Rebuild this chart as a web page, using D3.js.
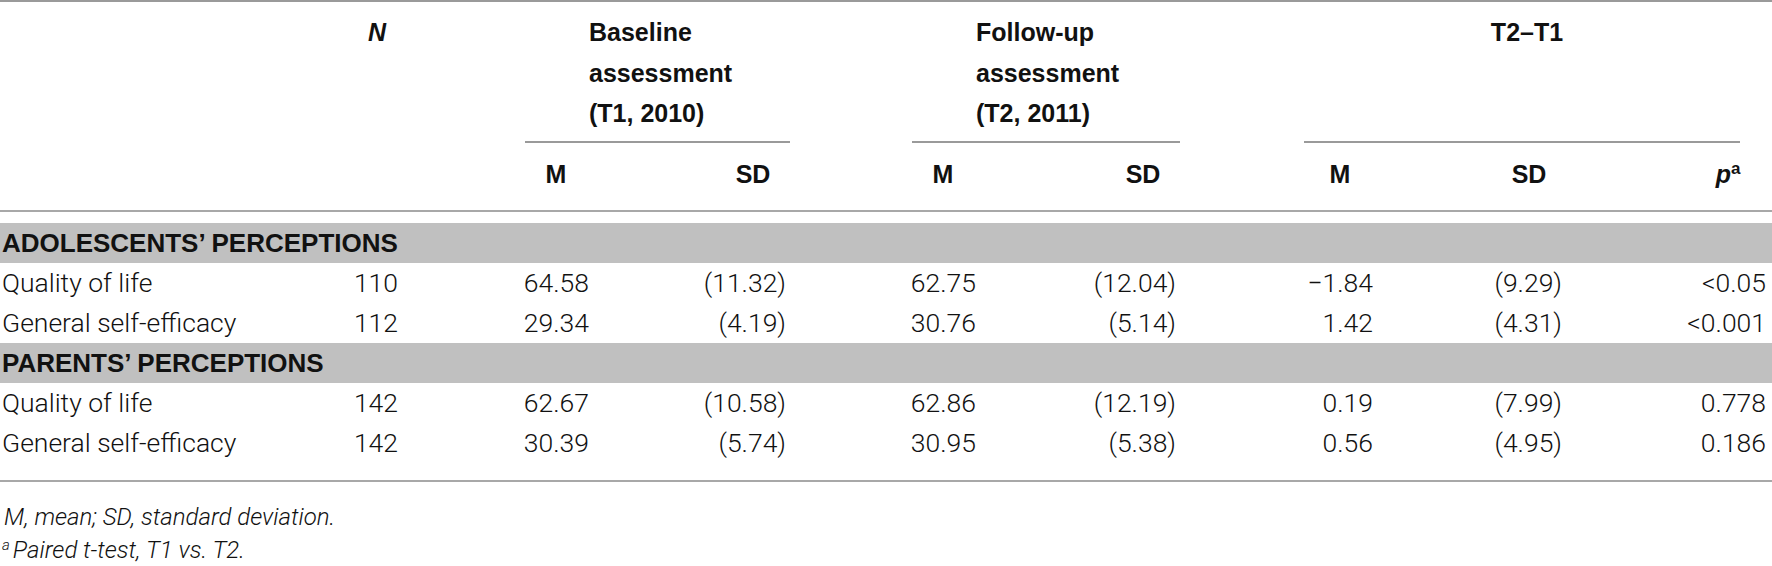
<!DOCTYPE html>
<html lang="en">
<head>
  <meta charset="UTF-8">
  <title>T1 vs T2 perceptions</title>
  <script src="https://cdn.jsdelivr.net/npm/d3@7/dist/d3.min.js"></script>
  <style>
    body { margin: 0; background: #fff; }
    .head { font-family: "Liberation Sans", Arial, sans-serif; font-weight: bold; font-size: 25px; fill: #111; }
    .grp  { font-size: 26px; }
    .cell { font-family: Roboto, "Liberation Sans", sans-serif; font-weight: 300; font-size: 26.5px; fill: #111; }
    .note { font-family: Roboto, "Liberation Sans", sans-serif; font-weight: 300; font-style: italic; font-size: 24px; fill: #111; }
  </style>
</head>
<body>
<div id="tabla"></div>
<script>
// data
groups    = ['ADOLESCENTS’ PERCEPTIONS', 'PARENTS’ PERCEPTIONS']
measures  = ['Quality of life', 'General self-efficacy']
nValues   = [110, 112, 142, 142]
baseM     = [64.58, 29.34, 62.67, 30.39]
baseSD    = [11.32, 4.19, 10.58, 5.74]
followM   = [62.75, 30.76, 62.86, 30.95]
followSD  = [12.04, 5.14, 12.19, 5.38]
diffM     = [-1.84, 1.42, 0.19, 0.56]
diffSD    = [9.29, 4.31, 7.99, 4.95]
pValues   = ['<0.05', '<0.001', '0.778', '0.186']

columns   = ['N', 'BM', 'BSD', 'FM', 'FSD', 'TM', 'TSD', 'p']
subHeads  = ['M', 'SD', 'M', 'SD', 'M', 'SD']
spanHeads = [
  { lines: ['Baseline', 'assessment', '(T1, 2010)'], from: 'BM', to: 'BSD' },
  { lines: ['Follow-up', 'assessment', '(T2, 2011)'], from: 'FM', to: 'FSD' },
  { lines: ['T2–T1'], from: 'TM', to: 'p' }
]

ancho = 1772
alto  = 566

svg = d3.select('#tabla')
  .append('svg')
  .attr('width', ancho)
  .attr('height', alto)

// right edge of each numeric column
x = d3.scaleOrdinal()
  .domain(columns)
  .range([398, 589, 786, 976, 1176, 1373, 1562, 1766])

// header text lines
yHead = d3.scalePoint()
  .domain([0, 1, 2, 3])
  .range([41, 163])
  .align(0)

// body rows: band, row, row, band, row, row
rows = []
groups.forEach((g, gi) => {
  rows.push({ type: 'group', label: g })
  measures.forEach((m, mi) => rows.push({ type: 'row', label: m, i: gi * measures.length + mi }))
})

y = d3.scaleBand()
  .domain(d3.range(rows.length))
  .range([223, 463])

fmt = d3.format('.2f')
sd  = v => '(' + fmt(v) + ')'

cellText = {
  N:   i => nValues[i],
  BM:  i => fmt(baseM[i]),
  BSD: i => sd(baseSD[i]),
  FM:  i => fmt(followM[i]),
  FSD: i => sd(followSD[i]),
  TM:  i => fmt(diffM[i]),
  TSD: i => sd(diffSD[i]),
  p:   i => pValues[i]
}

function rule(yy, x1, x2, color) {
  svg.append('line')
    .attr('x1', x1).attr('x2', x2)
    .attr('y1', yy).attr('y2', yy)
    .attr('stroke', color)
    .attr('stroke-width', 2)
}

// rules
rule(1, 0, ancho, '#9a9a9a')
rule(211, 0, ancho, '#a8a8a8')
rule(481, 0, ancho, '#a8a8a8')

// header
svg.append('text')
  .attr('class', 'head')
  .attr('x', x('N') - 12)
  .attr('y', yHead(0))
  .attr('text-anchor', 'end')
  .style('font-style', 'italic')
  .text('N')

spanHeads.forEach(h => {
  multi = h.lines.length > 1
  x1 = x(h.from) - (multi ? 64 : 69)
  x2 = multi ? x(h.to) + 4 : x(h.to) - 26
  svg.append('text')
    .attr('class', 'head')
    .attr('x', multi ? x(h.from) : 1527)
    .attr('text-anchor', multi ? 'start' : 'middle')
    .selectAll('tspan')
    .data(h.lines)
    .join('tspan')
      .attr('x', multi ? x(h.from) : 1527)
      .attr('y', (d, i) => yHead(i))
      .text(d => d)
  rule(142, x1, x2, '#9a9a9a')
})

svg.selectAll('.sub')
  .data(subHeads)
  .join('text')
    .attr('class', 'head sub')
    .attr('x', (d, i) => x(columns[i + 1]) - 33)
    .attr('y', 183)
    .attr('text-anchor', 'middle')
    .text(d => d)

pHead = svg.append('text')
  .attr('class', 'head')
  .attr('x', x('p') - 38)
  .attr('y', 183)
  .attr('text-anchor', 'middle')
pHead.append('tspan').style('font-style', 'italic').text('p')
pHead.append('tspan').attr('dy', -9).style('font-size', '17px').text('a')

// body
rows.forEach((r, ri) => {
  if (r.type === 'group') {
    svg.append('rect')
      .attr('x', 0)
      .attr('y', y(ri))
      .attr('width', ancho)
      .attr('height', y.bandwidth())
      .attr('fill', '#c0c0c0')
    svg.append('text')
      .attr('class', 'head grp')
      .attr('x', 2)
      .attr('y', y(ri) + y.bandwidth() / 2 + 9)
      .text(r.label)
  } else {
    svg.append('text')
      .attr('class', 'cell')
      .attr('x', 2)
      .attr('y', y(ri) + y.bandwidth() / 2 + 9)
      .text(r.label)
    svg.selectAll('.c' + ri)
      .data(columns)
      .join('text')
        .attr('class', 'cell c' + ri)
        .attr('x', d => x(d))
        .attr('y', y(ri) + y.bandwidth() / 2 + 9)
        .attr('text-anchor', 'end')
        .text(d => cellText[d](r.i))
  }
})

// notes
svg.append('text')
  .attr('class', 'note')
  .attr('x', 4)
  .attr('y', 525)
  .text('M, mean; SD, standard deviation.')

nota = svg.append('text')
  .attr('class', 'note')
  .attr('x', 2)
  .attr('y', 558)
nota.append('tspan').attr('dy', -8).style('font-size', '15px').text('a')
nota.append('tspan').attr('dy', 8).attr('dx', 3).text('Paired t-test, T1 vs. T2.')
</script>
</body>
</html>
